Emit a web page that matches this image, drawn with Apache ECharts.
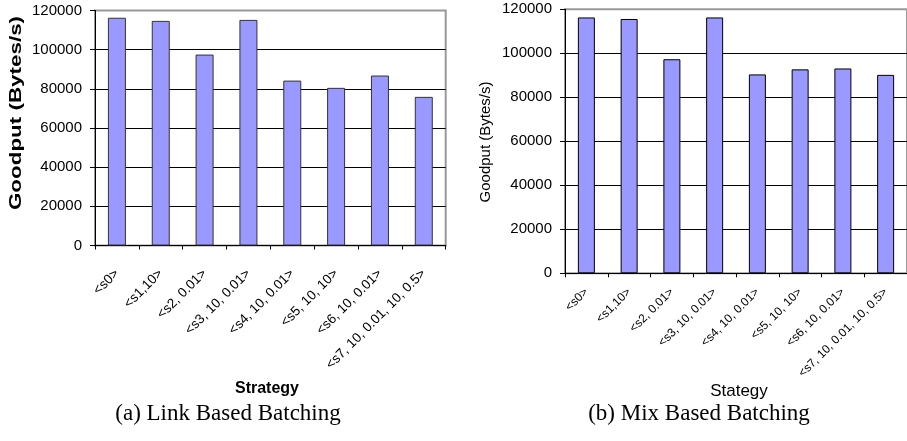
<!DOCTYPE html>
<html>
<head>
<meta charset="utf-8">
<script src="https://cdn.jsdelivr.net/npm/echarts@6/dist/echarts.min.js"></script>
<style>
html,body{margin:0;padding:0;background:#fff;}
#c{width:907px;height:441px;}
</style>
</head>
<body>
<div id="c"></div>
<script>
var categories = ["<s0>", "<s1,10>", "<s2, 0.01>", "<s3, 10, 0.01>", "<s4, 10, 0.01>", "<s5, 10, 10>", "<s6, 10, 0.01>", "<s7, 10, 0.01, 10, 0.5>"];
var linkBased = [116300, 114700, 97500, 115200, 84200, 80500, 86800, 75900];
var mixBased = [116300, 115600, 97300, 116300, 90400, 92700, 93100, 90200];
var yTicks = [0, 20000, 40000, 60000, 80000, 100000, 120000];

var FONT = '"Liberation Sans", Arial, sans-serif';
var SERIF = '"Liberation Serif", "Times New Roman", serif';

function yAxisCfg(gi) {
  return {
    type: 'value', gridIndex: gi, min: yTicks[0], max: yTicks[yTicks.length - 1],
    interval: yTicks[1] - yTicks[0],
    axisLine: {show: true, lineStyle: {color: '#000', width: 1}},
    axisTick: {show: true, length: 5, lineStyle: {color: '#000'}},
    axisLabel: {margin: 13, fontFamily: FONT, fontSize: 15, color: '#000',
                formatter: function (v) { return String(v); }},
    splitLine: {show: true, showMaxLine: false, lineStyle: {color: '#000', width: 1}}
  };
}
function xAxisCfg(gi, fs, margin) {
  return {
    type: 'category', gridIndex: gi, data: categories,
    axisLine: {show: true, lineStyle: {color: '#000', width: 1}},
    axisTick: {show: true, length: 4, lineStyle: {color: '#000'}},
    axisLabel: {rotate: 45, interval: 0, margin: margin, fontFamily: FONT, fontSize: fs, color: '#000'}
  };
}

var chart = echarts.init(document.getElementById('c'), null, {renderer: 'canvas'});
chart.setOption({
  animation: false,
  backgroundColor: '#fff',
  grid: [
    {left: 95, top: 10.5, width: 350.7, height: 235, show: true, borderColor: '#999', borderWidth: 2, backgroundColor: 'transparent'},
    {left: 565, top: 9.3, width: 349.5, height: 264, show: true, borderColor: '#999', borderWidth: 2, backgroundColor: 'transparent'}
  ],
  xAxis: [xAxisCfg(0, 13.5, 26), xAxisCfg(1, 12, 17)],
  yAxis: [yAxisCfg(0), yAxisCfg(1)],
  series: [
    {type: 'bar', xAxisIndex: 0, yAxisIndex: 0, data: linkBased, barWidth: 18,
     itemStyle: {color: '#9999FF', borderColor: '#333', borderWidth: 1}},
    {type: 'bar', xAxisIndex: 1, yAxisIndex: 1, data: mixBased, barWidth: 17,
     itemStyle: {color: '#9999FF', borderColor: '#000', borderWidth: 1}}
  ],
  graphic: [
    {type: 'text', x: 16.5, y: 113, rotation: Math.PI / 2, scaleX: 1.4,
     style: {text: 'Goodput (Bytes/s)', font: 'bold 16px ' + FONT, fill: '#000', align: 'center', verticalAlign: 'middle'}},
    {type: 'text', x: 486, y: 142, rotation: Math.PI / 2,
     style: {text: 'Goodput (Bytes/s)', font: '15px ' + FONT, fill: '#000', align: 'center', verticalAlign: 'middle'}},
    {type: 'text', x: 267, y: 389,
     style: {text: 'Strategy', font: 'bold 16px ' + FONT, fill: '#000', align: 'center', verticalAlign: 'middle'}},
    {type: 'text', x: 739, y: 391,
     style: {text: 'Stategy', font: '17px ' + FONT, fill: '#000', align: 'center', verticalAlign: 'middle'}},
    {type: 'text', x: 228, y: 414,
     style: {text: '(a) Link Based Batching', font: '23px ' + SERIF, fill: '#000', align: 'center', verticalAlign: 'middle'}},
    {type: 'text', x: 699, y: 414,
     style: {text: '(b) Mix Based Batching', font: '23px ' + SERIF, fill: '#000', align: 'center', verticalAlign: 'middle'}}
  ]
});
</script>
</body>
</html>
